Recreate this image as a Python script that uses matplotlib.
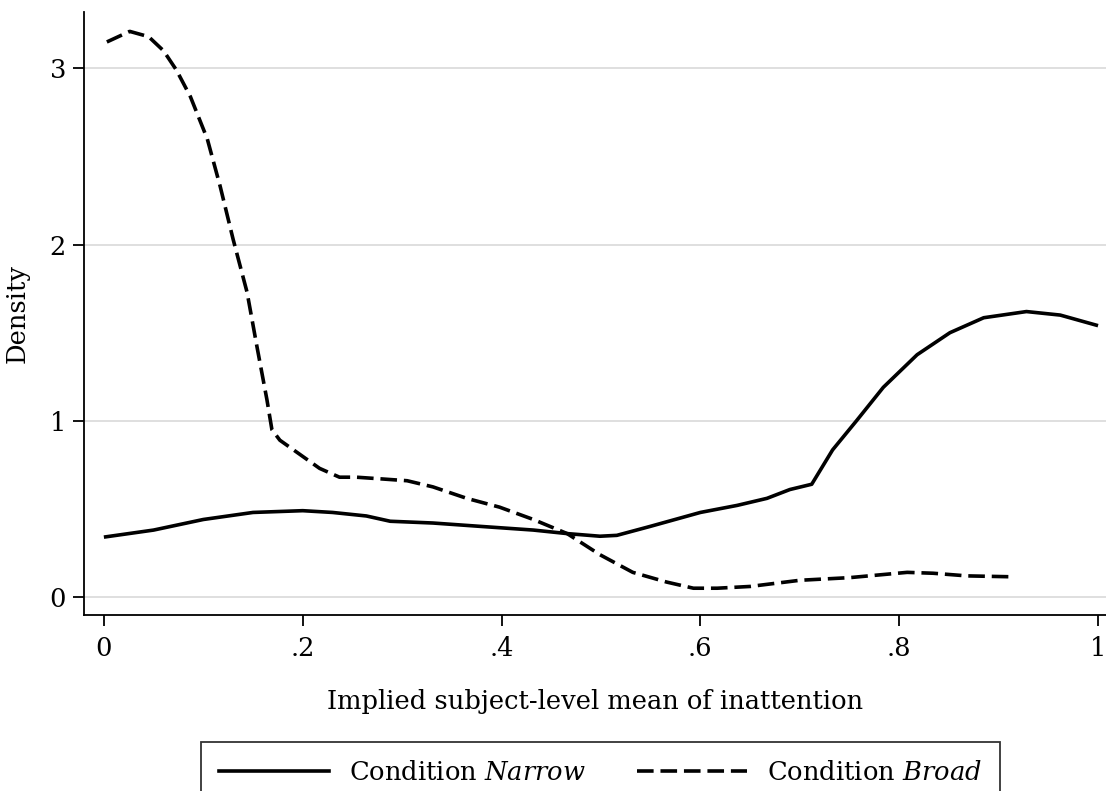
import matplotlib
matplotlib.use("Agg")
import matplotlib.pyplot as plt
from matplotlib.lines import Line2D

# ---- data ----
narrow_x = [0.0, 0.05, 0.10, 0.15, 0.20, 0.23, 0.264, 0.288, 0.331, 0.381, 0.432,
            0.466, 0.499, 0.516, 0.549, 0.600, 0.637, 0.667, 0.690, 0.712, 0.733,
            0.757, 0.784, 0.818, 0.851, 0.885, 0.928, 0.962, 1.0]
narrow_y = [0.34, 0.38, 0.44, 0.48, 0.49, 0.48, 0.46, 0.43, 0.42, 0.40, 0.38,
            0.36, 0.345, 0.35, 0.40, 0.48, 0.52, 0.56, 0.61, 0.64, 0.835,
            1.0, 1.19, 1.375, 1.50, 1.585, 1.62, 1.60, 1.54]

broad_x = [0.003, 0.026, 0.045, 0.060, 0.073, 0.087, 0.104, 0.117, 0.130, 0.144,
           0.154, 0.164, 0.169, 0.177, 0.197, 0.217, 0.237, 0.254, 0.280, 0.305,
           0.331, 0.365, 0.398, 0.432, 0.466, 0.499, 0.532, 0.566, 0.593, 0.617,
           0.650, 0.700, 0.750, 0.808, 0.834, 0.868, 0.912]
broad_y = [3.15, 3.21, 3.18, 3.10, 2.99, 2.84, 2.60, 2.33, 2.03, 1.73,
           1.42, 1.12, 0.95, 0.89, 0.81, 0.73, 0.68, 0.68, 0.67, 0.66,
           0.625, 0.56, 0.51, 0.44, 0.36, 0.24, 0.14, 0.085, 0.05, 0.05,
           0.06, 0.095, 0.11, 0.14, 0.135, 0.12, 0.115]

x_ticks = [0, 0.2, 0.4, 0.6, 0.8, 1.0]
x_ticklabels = ["0", ".2", ".4", ".6", ".8", "1"]
y_ticks = [0, 1, 2, 3]
y_ticklabels = ["0", "1", "2", "3"]

label_narrow = r"Condition $\it{Narrow}$"
label_broad = r"Condition $\it{Broad}$"
x_label = "Implied subject-level mean of inattention"
y_label = "Density"

# ---- style ----
FONT = "DejaVu Serif"
plt.rcParams["font.family"] = [FONT]
plt.rcParams["mathtext.fontset"] = "custom"
plt.rcParams["mathtext.rm"] = FONT
plt.rcParams["mathtext.it"] = FONT + ":italic"

FS = 18.5
W, H = 1106, 791
fig = plt.figure(figsize=(W / 100, H / 100), dpi=100)
ax = fig.add_axes([84 / W, 1 - 615 / H, 1 - 84 / W, (615 - 12) / H])

lw = 2.6
dash = (4.6, 1.9)
ax.plot(narrow_x, narrow_y, color="black", lw=lw, solid_capstyle="butt",
        solid_joinstyle="round", label=label_narrow)
ax.plot(broad_x, broad_y, color="black", lw=lw, dashes=dash,
        dash_capstyle="butt", label=label_broad)

ax.set_xlim(-0.020, 1.008)
ax.set_ylim(-0.102, 3.32)

for yv in y_ticks:
    ax.axhline(yv, color="#d9d9d9", lw=1.2, zorder=0)

ax.set_xticks(x_ticks)
ax.set_xticklabels(x_ticklabels)
ax.set_yticks(y_ticks)
ax.set_yticklabels(y_ticklabels)
ax.tick_params(axis="both", direction="out", length=8, width=1.3,
               labelsize=FS, colors="black")
ax.tick_params(axis="x", pad=7)
ax.tick_params(axis="y", pad=5)

for s in ["top", "right"]:
    ax.spines[s].set_visible(False)
for s in ["left", "bottom"]:
    ax.spines[s].set_linewidth(1.3)

ax.set_xlabel(x_label, fontsize=FS, labelpad=20)
ax.set_ylabel(y_label, fontsize=FS, labelpad=14)

handles = [Line2D([], [], color="black", lw=lw),
           Line2D([], [], color="black", lw=lw, dashes=dash)]
leg = fig.legend(handles, [label_narrow, label_broad], loc="upper center",
                 bbox_to_anchor=((207 + 994) / 2 / W, 1 - 742 / H),
                 ncol=2, frameon=True, fancybox=False, fontsize=FS,
                 handlelength=4.28, columnspacing=2.0, handletextpad=0.76,
                 borderpad=0.7, borderaxespad=0)
leg.get_frame().set_edgecolor("black")
leg.get_frame().set_linewidth(1.3)

fig.savefig("out.png", dpi=100)
